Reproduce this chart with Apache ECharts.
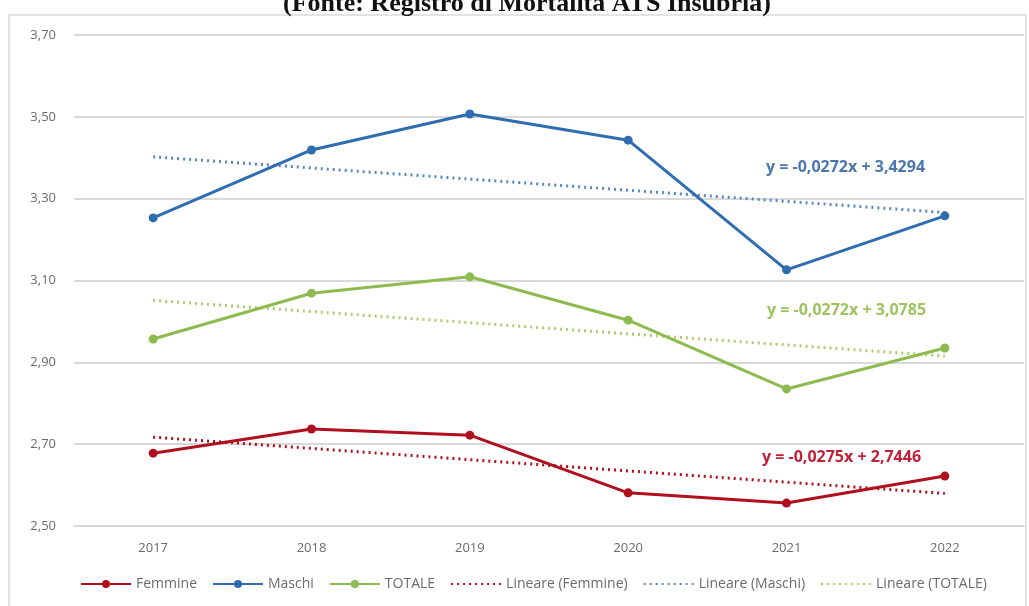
<!DOCTYPE html>
<html><head><meta charset="utf-8">
<script src="https://cdn.jsdelivr.net/npm/echarts@6/dist/echarts.min.js"></script>
<style>html,body{margin:0;padding:0;background:#fff}#c{width:1029px;height:606px}</style>
</head><body><div id="c"></div>
<script>
const years = ['2017','2018','2019','2020','2021','2022'];
const femmine = [2.678, 2.737, 2.722, 2.581, 2.556, 2.622];
const maschi  = [3.253, 3.419, 3.507, 3.443, 3.126, 3.258];
const totale  = [2.957, 3.069, 3.109, 3.003, 2.835, 2.935];
const linFemmine = [2.7171, 2.6896, 2.6621, 2.6346, 2.6071, 2.5796];
const linMaschi  = [3.4022, 3.3750, 3.3478, 3.3206, 3.2934, 3.2662];
const linTotale  = [3.0513, 3.0241, 2.9969, 2.9697, 2.9425, 2.9153];
const yTicks = ['2,50','2,70','2,90','3,10','3,30','3,50','3,70'];
const eqMaschi = 'y = -0,0272x + 3,4294';
const eqTotale = 'y = -0,0272x + 3,0785';
const eqFemmine = 'y = -0,0275x + 2,7446';
const title = '(Fonte: Registro di Mortalità ATS Insubria)';

const cRed = '#B0101E', cBlue = '#2F6DB0', cGreen = '#8DBB4F';
const grey = '#6b6b6b';
const chart = echarts.init(document.getElementById('c'));
function solid(name, data, color){
  return {name, type:'line', data, symbol:'circle', symbolSize:9,
    lineStyle:{color, width:3}, itemStyle:{color}, z:3};
}
function dotted(name, data, color){
  return {name, type:'line', data, symbol:'none', showSymbol:false,
    lineStyle:{color, width:3, type:[2,4]}, itemStyle:{color, opacity:0}, z:2};
}
chart.setOption({
  animation:false,
  grid:{left:74, right:5, top:35, bottom:80},
  xAxis:{type:'category', data:years, boundaryGap:true,
    axisLine:{lineStyle:{color:'#d9d9d9', width:2}}, axisTick:{show:false},
    axisLabel:{color:grey, fontSize:13, fontFamily:'Open Sans', margin:16}},
  yAxis:{type:'value', min:2.5, max:3.7, interval:0.2,
    axisLine:{show:false}, axisTick:{show:false},
    splitLine:{lineStyle:{color:'#d9d9d9', width:2}},
    axisLabel:{color:grey, fontSize:13, fontFamily:'Open Sans', margin:18,
      formatter:function(v){ const i=Math.round((v-2.5)/0.2); return yTicks[i]; }}},
  legend:{bottom:10, left:75, itemWidth:50, itemHeight:10, itemGap:15,
    textStyle:{color:grey, fontSize:14, fontFamily:'Open Sans'},
    data:['Femmine','Maschi','TOTALE','Lineare (Femmine)','Lineare (Maschi)','Lineare (TOTALE)']},
  graphic:[
    {type:'rect', shape:{x:9, y:15, width:1017, height:600}, style:{fill:'none', stroke:'#e3e3e3', lineWidth:2}, z:-1},
    {type:'text', left:283, top:-9, style:{text:title, font:'bold 26px "Liberation Serif"', fill:'#111'}},
    {type:'text', left:766, top:159, style:{text:eqMaschi, font:'bold 16px "Open Sans"', fill:'#4C76AE'}},
    {type:'text', left:767, top:302, style:{text:eqTotale, font:'bold 16px "Open Sans"', fill:'#9DC35F'}},
    {type:'text', left:762, top:449, style:{text:eqFemmine, font:'bold 16px "Open Sans"', fill:'#C0203A'}}
  ],
  series:[
    solid('Femmine', femmine, cRed),
    solid('Maschi', maschi, cBlue),
    solid('TOTALE', totale, cGreen),
    dotted('Lineare (Femmine)', linFemmine, cRed),
    dotted('Lineare (Maschi)', linMaschi, '#5A86C0'),
    dotted('Lineare (TOTALE)', linTotale, '#A9CC6E')
  ]
});
</script></body></html>
